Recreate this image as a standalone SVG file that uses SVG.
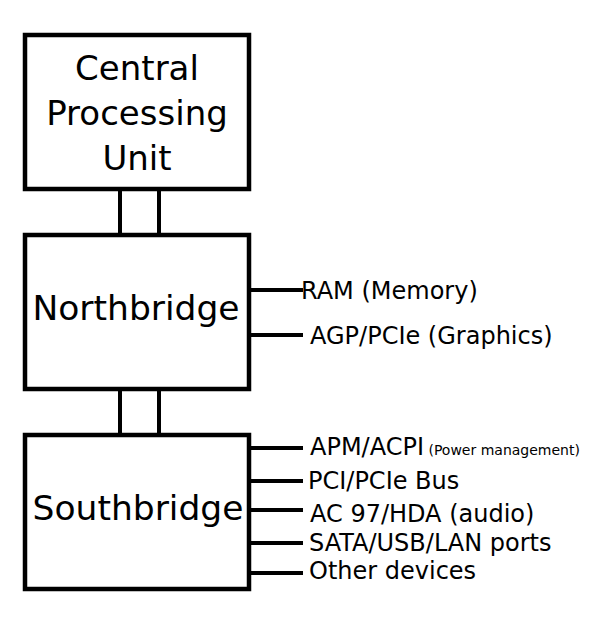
<svg xmlns="http://www.w3.org/2000/svg" width="600" height="625" viewBox="0 0 600 625">
<style>
.box{fill:#fff;stroke:#000;stroke-width:4.5}
.ln{stroke:#000;stroke-width:4;fill:none}
.t{font-family:"DejaVu Sans",sans-serif;fill:#000}
.big{font-size:34.5px;text-anchor:middle}
.lab{font-size:24px}
.sm{font-size:14px}
</style>
<rect width="600" height="625" fill="#fff"/>
<g id="connectors">
<line class="ln" x1="120" y1="189" x2="120" y2="235"/>
<line class="ln" x1="159" y1="189" x2="159" y2="235"/>
<line class="ln" x1="120" y1="389" x2="120" y2="435"/>
<line class="ln" x1="159" y1="389" x2="159" y2="435"/>
<line class="ln" x1="249" y1="290" x2="303" y2="290"/>
<line class="ln" x1="249" y1="335" x2="303" y2="335"/>
<line class="ln" x1="249" y1="448" x2="303" y2="448"/>
<line class="ln" x1="249" y1="481" x2="303" y2="481"/>
<line class="ln" x1="249" y1="510" x2="303" y2="510"/>
<line class="ln" x1="249" y1="543" x2="303" y2="543"/>
<line class="ln" x1="249" y1="573" x2="303" y2="573"/>
</g>
<g id="cpu">
<rect class="box" x="25" y="35" width="224" height="154"/>
<text class="t big" x="137" y="80" style="font-size:34px">Central</text>
<text class="t big" x="137" y="125" style="font-size:34px">Processing</text>
<text class="t big" x="137" y="170" style="font-size:34px">Unit</text>
</g>
<g id="northbridge">
<rect class="box" x="25" y="235" width="224" height="154"/>
<text class="t big" x="136" y="320">Northbridge</text>
</g>
<g id="southbridge">
<rect class="box" x="25" y="435" width="224" height="154"/>
<text class="t big" x="138" y="520">Southbridge</text>
</g>
<g id="labels">
<text class="t lab" x="301" y="299">RAM (Memory)</text>
<text class="t lab" x="310" y="344">AGP/PCIe (Graphics)</text>
<text class="t lab" x="310" y="455">APM/ACPI<tspan class="sm"> (Power management)</tspan></text>
<text class="t lab" x="308" y="489">PCI/PCIe Bus</text>
<text class="t lab" x="310" y="522">AC 97/HDA (audio)</text>
<text class="t lab" x="309" y="551">SATA/USB/LAN ports</text>
<text class="t lab" x="309" y="579">Other devices</text>
</g>
</svg>
